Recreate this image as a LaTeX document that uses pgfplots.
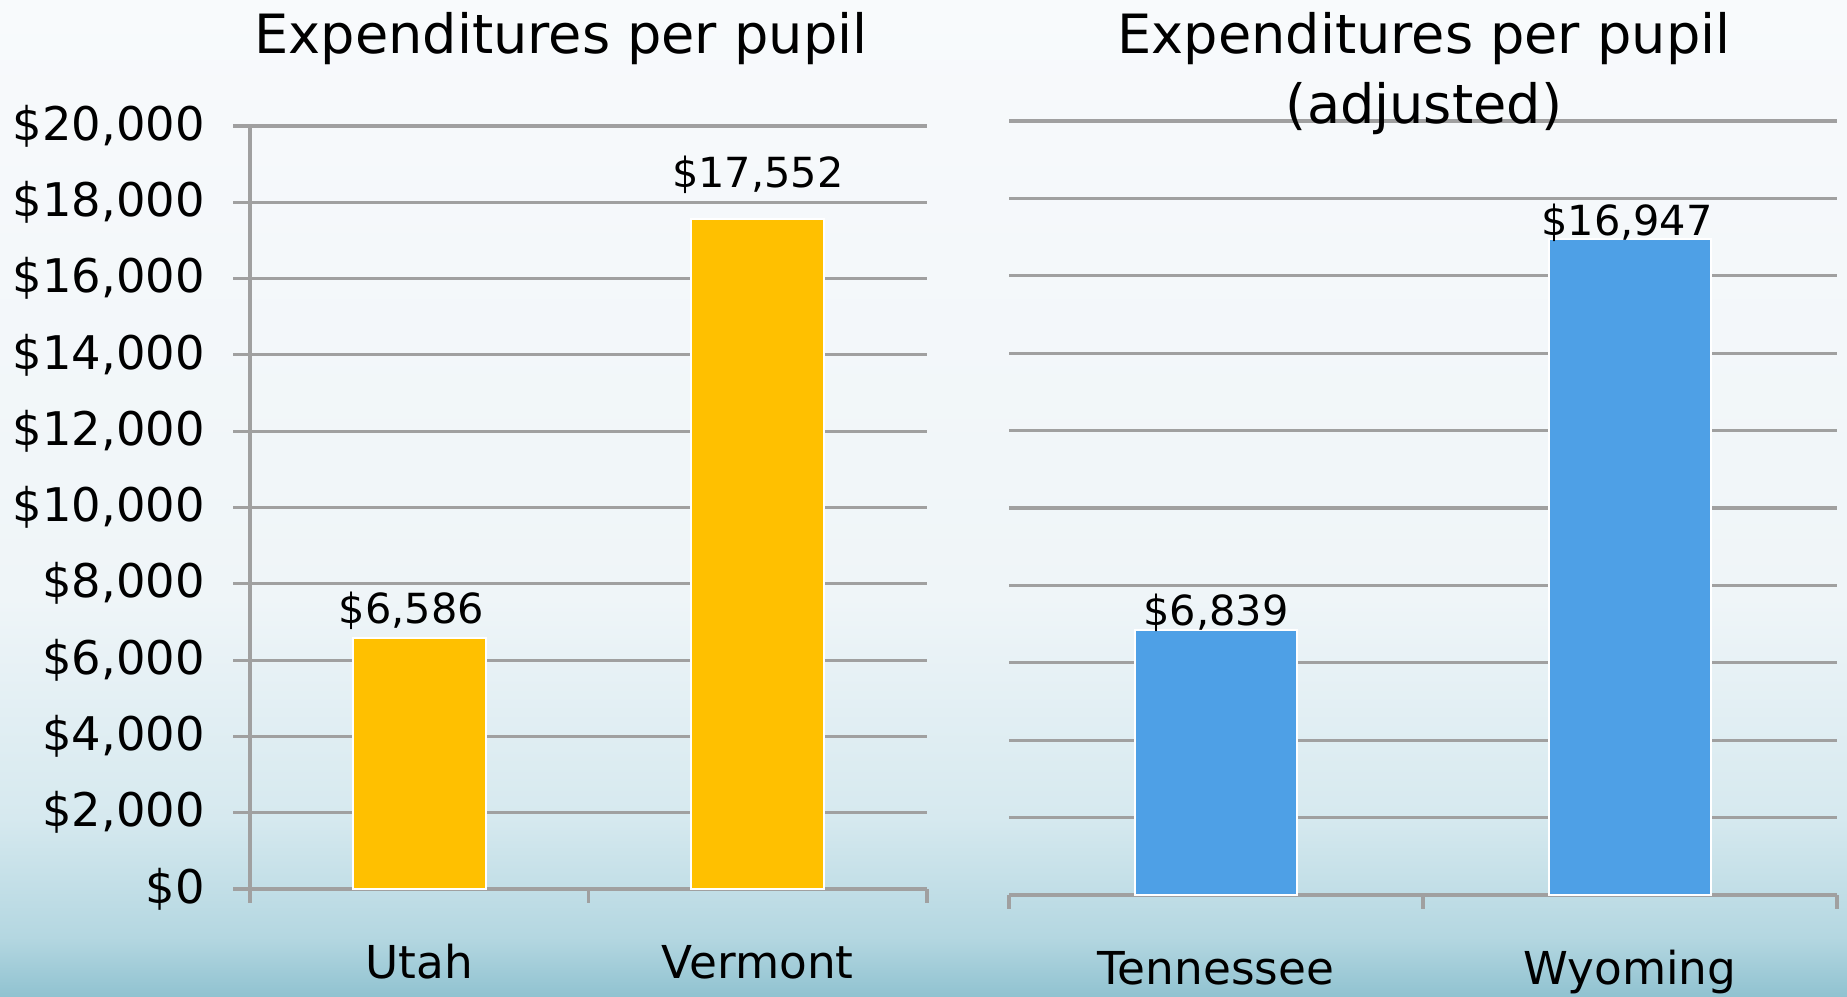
\documentclass[border=0pt]{standalone}
\usepackage{pgfplots}
\pgfplotsset{compat=1.18}
\usepackage{fontspec}
\setmainfont{DejaVu Sans}
\definecolor{baryellow}{HTML}{FFC000}
\definecolor{barblue}{HTML}{4EA0E6}
\definecolor{gridgray}{HTML}{A0A0A0}
\definecolor{bgT}{HTML}{F8FAFC}
\definecolor{bgW}{HTML}{EFF5F8}
\definecolor{bgL}{HTML}{D6E9EF}
\definecolor{bgM}{HTML}{B4D7E1}
\definecolor{bgB}{HTML}{90C2D0}
\pgfdeclareverticalshading{bgshade}{100bp}{color(0bp)=(bgB); color(25bp)=(bgB); color(28bp)=(bgM); color(34bp)=(bgL); color(45bp)=(bgW); color(75bp)=(bgT); color(100bp)=(bgT)}
\newcommand{\ticksize}{\fontsize{13.2}{15}\selectfont}
\newcommand{\catsize}{\fontsize{12.9}{14}\selectfont}
\newcommand{\valsize}{\fontsize{11.8}{14}\selectfont}
\newcommand{\titlesize}{\fontsize{15.4}{18}\selectfont}
\pgfplotsset{
  commonax/.style={
    scale only axis, anchor=south west,
    xmin=-0.5, xmax=1.5, ymin=0, ymax=20000,
    scaled y ticks=false,
    axis lines*=left,
    axis line style={gridgray, line width=1pt},
    ymajorgrids, grid style={gridgray, line width=0.9pt},
    ytick={0,2000,...,20000},
    xtick={0,1},
    minor xtick={-0.5,0.5,1.5},
    tick align=outside,
    major tick length=1.7mm,
    minor tick length=1.4mm,
    major x tick style={draw=none},
    tick style={gridgray, line width=0.9pt},
    xticklabel style={font=\catsize, anchor=base, yshift=-7.3mm},
    clip=false,
  }
}
\begin{document}
\begin{tikzpicture}
\useasboundingbox (0,0) rectangle (184.7mm,99.7mm);
\shade[shading=bgshade] (0,0) rectangle (184.7mm,99.7mm);
\begin{axis}[commonax,
  at={(25mm,10.8mm)}, width=67.7mm, height=76.3mm,
  yticklabels={{\$0},{\$2,000},{\$4,000},{\$6,000},{\$8,000},{\$10,000},{\$12,000},{\$14,000},{\$16,000},{\$18,000},{\$20,000}},
  yticklabel style={font=\ticksize, anchor=east, xshift=-1.6mm},
  xticklabels={Utah,Vermont},
]
\addplot[ybar, bar width=13.3mm, bar shift=0pt, fill=baryellow, draw=white, line width=0.6pt,
  nodes near coords={\$6,586}, nodes near coords style={anchor=base, yshift=1.4mm, xshift=-0.8mm, font=\valsize, text=black}]
  coordinates {(0,6586)};
\addplot[ybar, bar width=13.3mm, bar shift=0pt, fill=baryellow, draw=white, line width=0.6pt,
  nodes near coords={\$17,552}, nodes near coords style={anchor=base, yshift=3.2mm, font=\valsize, text=black}]
  coordinates {(1,17552)};
\end{axis}
\begin{axis}[commonax,
  at={(100.9mm,10.2mm)}, width=82.8mm, height=77.4mm,
  y axis line style={draw=none},
  ytick style={draw=none},
  yticklabels={},
  xticklabels={Tennessee,Wyoming},
]
\addplot[ybar, bar width=16.2mm, bar shift=0pt, fill=barblue, draw=white, line width=0.6pt,
  nodes near coords={\$6,839}, nodes near coords style={anchor=base, yshift=0.5mm, font=\valsize, text=black}]
  coordinates {(0,6839)};
\addplot[ybar, bar width=16.2mm, bar shift=0pt, fill=barblue, draw=white, line width=0.6pt,
  nodes near coords={\$16,947}, nodes near coords style={anchor=base, yshift=0.4mm, xshift=-0.3mm, font=\valsize, text=black}]
  coordinates {(1,16947)};
\end{axis}
\node[anchor=base, font=\titlesize] at (56.1mm,94.3mm) {Expenditures per pupil};
\node[anchor=base, font=\titlesize] at (142.4mm,94.3mm) {Expenditures per pupil};
\node[anchor=base, font=\titlesize] at (142.4mm,87.3mm) {(adjusted)};
\end{tikzpicture}
\end{document}
